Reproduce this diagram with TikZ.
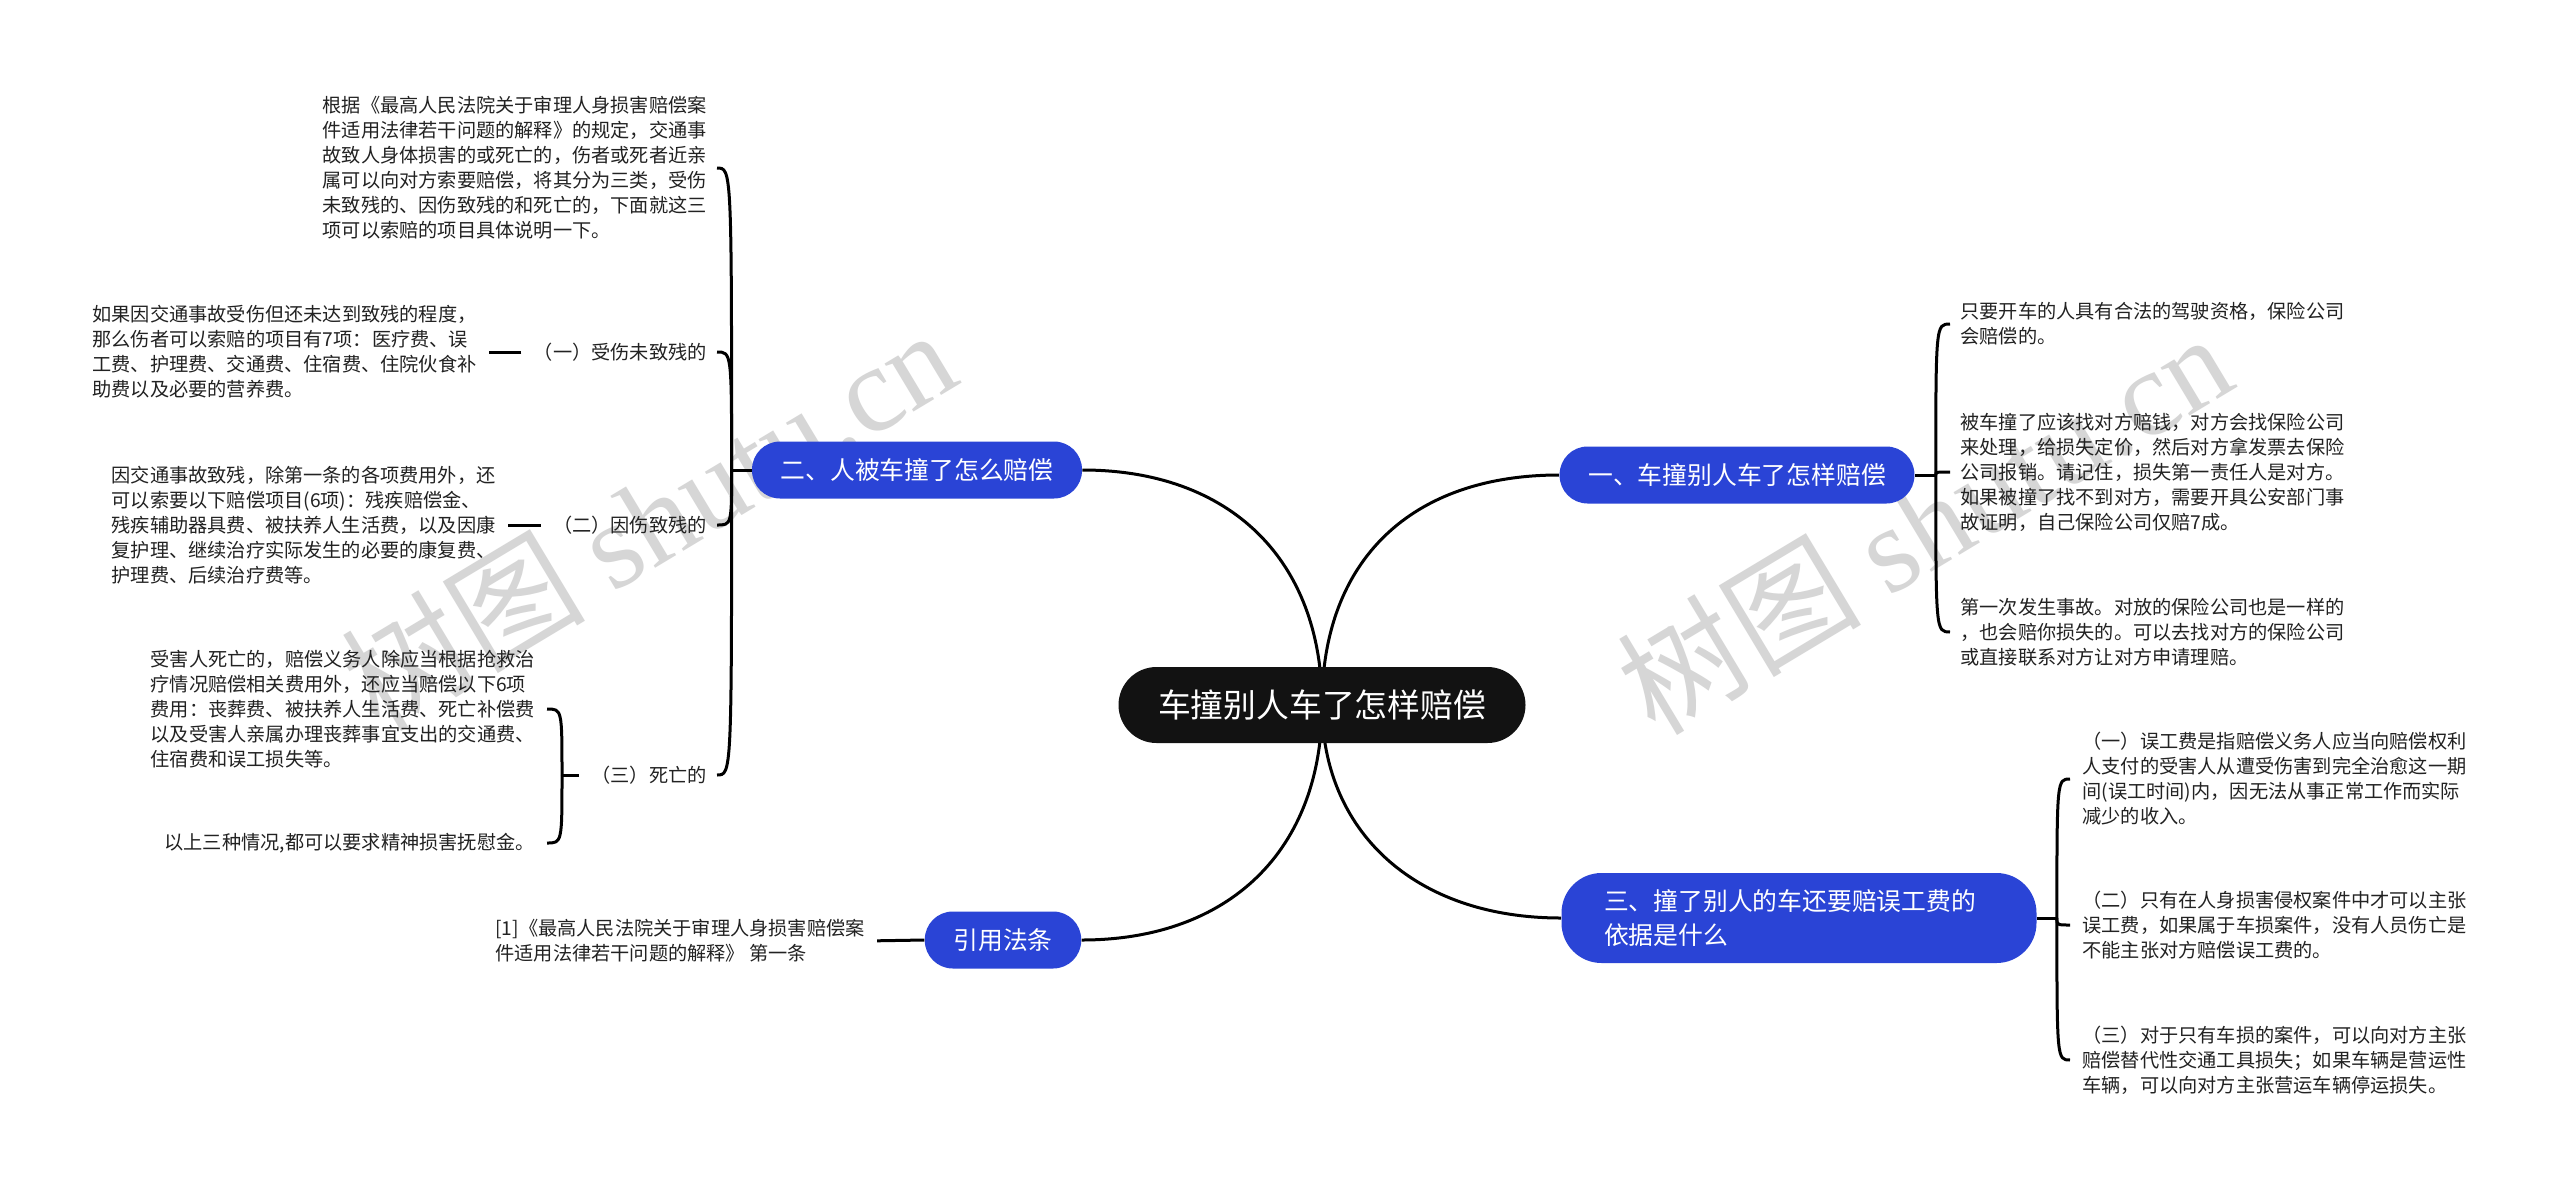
\documentclass[tikz,border=0pt]{standalone}
\usepackage{fontspec}
\setmainfont{Noto Sans CJK SC}
\newfontfamily\wmfont{Liberation Serif}
\usepackage{tikz}
\usetikzlibrary{backgrounds}
\definecolor{royal}{HTML}{2A44D6}
\definecolor{ink}{HTML}{222222}
\definecolor{wmgray}{HTML}{D6D6D6}

\begin{document}
\begin{tikzpicture}[x=0.5pt,y=-0.5pt,
  root/.style={fill=black!93,text=white,rounded corners=19pt,minimum height=38pt,inner xsep=19.75pt,font=\fontsize{16.4}{20}\selectfont},
  topic/.style={fill=royal,text=white,align=left,rounded corners=14pt,minimum height=28.5pt,inner xsep=14.3pt,font=\fontsize{12.4}{17}\selectfont},
  leaf/.style={inner sep=0pt,align=left,text=ink,font=\fontsize{9.6}{12.5}\selectfont},
  conn/.style={line width=1.5pt,draw=black},
  wmark/.style={text=wmgray,rotate=31,font=\fontsize{61}{61}\selectfont}]
  \node[root] (c) at (1322,705) {车撞别人车了怎样赔偿};
  \node[topic] (b2) at (917,470) {二、人被车撞了怎么赔偿};
  \node[topic] (b1) at (1737,475) {一、车撞别人车了怎样赔偿};
  \node[topic,text width=195pt,inner xsep=21.25pt,minimum height=45pt,rounded corners=20pt] (b3) at (1799,918) {三、撞了别人的车还要赔误工费的\\依据是什么};
  \node[topic] (b4) at (1003,940) {引用法条};

  \node[leaf,anchor=east] (t21) at (707,168) {根据《最高人民法院关于审理人身损害赔偿案\\件适用法律若干问题的解释》的规定，交通事\\故致人身体损害的或死亡的，伤者或死者近亲\\属可以向对方索要赔偿，将其分为三类，受伤\\未致残的、因伤致残的和死亡的，下面就这三\\项可以索赔的项目具体说明一下。};
  \node[leaf,anchor=east] (l21) at (707,352) {（一）受伤未致残的};
  \node[leaf,anchor=east] (t211) at (477,352) {如果因交通事故受伤但还未达到致残的程度，\\那么伤者可以索赔的项目有7项：医疗费、误\\工费、护理费、交通费、住宿费、住院伙食补\\助费以及必要的营养费。};
  \node[leaf,anchor=east] (l22) at (707,525) {（二）因伤致残的};
  \node[leaf,anchor=east] (t221) at (496,525) {因交通事故致残，除第一条的各项费用外，还\\可以索要以下赔偿项目(6项)：残疾赔偿金、\\残疾辅助器具费、被扶养人生活费，以及因康\\复护理、继续治疗实际发生的必要的康复费、\\护理费、后续治疗费等。};
  \node[leaf,anchor=east] (l23) at (707,775) {（三）死亡的};
  \node[leaf,anchor=east] (t231) at (535,709) {受害人死亡的，赔偿义务人除应当根据抢救治\\疗情况赔偿相关费用外，还应当赔偿以下6项\\费用：丧葬费、被扶养人生活费、死亡补偿费\\以及受害人亲属办理丧葬事宜支出的交通费、\\住宿费和误工损失等。};
  \node[leaf,anchor=east] (t232) at (535,843) {以上三种情况,都可以要求精神损害抚慰金。};

  \node[leaf,anchor=west] (t11) at (1960,324) {只要开车的人具有合法的驾驶资格，保险公司\\会赔偿的。};
  \node[leaf,anchor=west] (t12) at (1960,472) {被车撞了应该找对方赔钱，对方会找保险公司\\来处理，给损失定价，然后对方拿发票去保险\\公司报销。请记住，损失第一责任人是对方。\\如果被撞了找不到对方，需要开具公安部门事\\故证明，自己保险公司仅赔7成。};
  \node[leaf,anchor=west] (t13) at (1960,632) {第一次发生事故。对放的保险公司也是一样的\\，也会赔你损失的。可以去找对方的保险公司\\或直接联系对方让对方申请理赔。};

  \node[leaf,anchor=west] (t31) at (2082,779) {（一）误工费是指赔偿义务人应当向赔偿权利\\人支付的受害人从遭受伤害到完全治愈这一期\\间(误工时间)内，因无法从事正常工作而实际\\减少的收入。};
  \node[leaf,anchor=west] (t32) at (2082,925) {（二）只有在人身损害侵权案件中才可以主张\\误工费，如果属于车损案件，没有人员伤亡是\\不能主张对方赔偿误工费的。};
  \node[leaf,anchor=west] (t33) at (2082,1060) {（三）对于只有车损的案件，可以向对方主张\\赔偿替代性交通工具损失；如果车辆是营运性\\车辆，可以向对方主张营运车辆停运损失。};

  \node[leaf,anchor=west] (t41) at (495,941) {[1]《最高人民法院关于审理人身损害赔偿案\\件适用法律若干问题的解释》 第一条};

  \begin{scope}[on background layer]
    \fill[white] (0,0) rectangle (2560,1189);
    \node[wmark] (w1) at (648,518) {树图 {\wmfont shutu.cn}};
    \node[wmark] (w2) at (1924,522) {树图 {\wmfont shutu.cn}};
    \draw[conn] (c.center) .. controls +(0,-145) and +(148,0) .. (b2.east);
    \draw[conn] (c.center) .. controls +(0,-145) and +(-148,0) .. (b1.west);
    \draw[conn] (c.center) .. controls +(0,145) and +(148,0) .. (b4.east);
    \draw[conn] (c.center) .. controls +(0,125) and +(-148,0) .. (b3.west);
  \end{scope}

  \draw[conn] (b2.west) -- ++(-20,0) coordinate (k2);
  \foreach \n in {t21,l21,l22,l23}
    \draw[conn] (k2) .. controls (k2 |- \n.east) .. ([xshift=5pt]\n.east);
  \draw[conn,shorten <=6pt,shorten >=6pt] (l21.west) -- (t211.east);
  \draw[conn,shorten <=6pt,shorten >=6pt] (l22.west) -- (t221.east);
  \draw[conn,shorten <=6pt] (l23.west) -- ++(-29,0) coordinate (k23);
  \foreach \n in {t231,t232}
    \draw[conn] (k23) .. controls (k23 |- \n.east) .. ([xshift=6pt]\n.east);

  \draw[conn] (b1.east) -- ++(21,0) coordinate (k1);
  \foreach \n in {t11,t12,t13}
    \draw[conn] (k1) .. controls (k1 |- \n.west) .. ([xshift=-5pt]\n.west);
  \draw[conn] (b3.east) -- ++(20,0) coordinate (k3);
  \foreach \n in {t31,t32,t33}
    \draw[conn] (k3) .. controls (k3 |- \n.west) .. ([xshift=-6pt]\n.west);
  \draw[conn,shorten >=6pt] (b4.west) -- (t41.east);
\end{tikzpicture}
\end{document}
